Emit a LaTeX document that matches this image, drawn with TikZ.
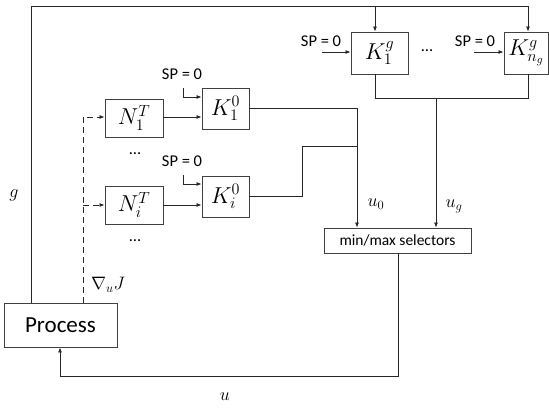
\RequirePackage{fix-cm}
\documentclass[tikz,border=0pt]{standalone}
\usepackage{fontspec}
\setmainfont{Carlito}
\usetikzlibrary{arrows.meta}
\begin{document}
\begin{tikzpicture}[x=1pt,y=-1pt,
  blk/.style={draw=black!75,line width=0.9pt,inner sep=0pt,minimum width=#1},
  ln/.style={draw=black!85,line width=0.8pt},
  arr/.style={ln,-{Latex[length=5pt,width=4pt]}},
  dsh/.style={arr,dash pattern=on 6pt off 4pt},
  sp/.style={font=\fontsize{16.5}{18}\selectfont},
  mathlbl/.style={inner sep=1pt,font=\fontsize{18}{20}\selectfont},
  blkm/.style={font=\fontsize{23}{25}\selectfont}]
\useasboundingbox (0,0) rectangle (549,408);
% blocks
\node[blk=113pt,minimum height=44pt,font=\fontsize{23}{26}\selectfont] (proc) at (60.5,325) {Process};
\node[blk=58pt,minimum height=38pt,blkm] (N1) at (134,118) {$N_1^T$};
\node[blk=58pt,minimum height=38pt,blkm] (Ni) at (134,205) {$N_i^T$};
\node[blk=47pt,minimum height=41pt,blkm] (K10) at (225.5,108.5) {$K_1^0$};
\node[blk=47pt,minimum height=41pt,blkm] (Ki0) at (225.5,196.5) {$K_i^0$};
\node[blk=57pt,minimum height=42pt,blkm] (K1g) at (379.5,53) {$K_1^g$};
\node[blk=44pt,minimum height=42pt,blkm] (Kng) at (526,53) {$K_{n_g}^g$};
\node[blk=147pt,minimum height=25pt,font=\fontsize{15.5}{18}\selectfont] (sel) at (397.5,240.5) {min/max selectors};
% labels
\node[sp,inner sep=1pt] (sp1) at (182,74) {SP = 0};
\node[sp,inner sep=1pt] (sp2) at (182,161) {SP = 0};
\node[sp,inner sep=1pt] (sp3) at (321,41) {SP = 0};
\node[sp,inner sep=1pt] (sp4) at (475,41) {SP = 0};
\node[sp] (d1) at (135,154) {\ldots};
\node[sp] (d2) at (135,241) {\ldots};
\node[sp] (d3) at (427,51) {\ldots};
\node[mathlbl] (lg) at (14,195) {$g$};
\node[mathlbl] (lgrad) at (108,285) {$\nabla_{u} J$};
\node[mathlbl] (lu) at (225,397) {$u$};
\node[mathlbl] (lu0) at (376,204) {$u_0$};
\node[mathlbl] (lug) at (454,206) {$u_g$};
% routing coordinates
\coordinate (gx) at (31,6);
\coordinate (topr) at (528,6);
\coordinate (topm) at (375,6);
\coordinate (dx) at (83,117);
\coordinate (gbot) at (375,98);
\coordinate (gbr) at (528,98);
\coordinate (gmid) at (436,98);
\coordinate (k0a) at (357,108);
\coordinate (k0b) at (302,146);
\coordinate (k0c) at (357,146);
\coordinate (ub) at (398,376);
\coordinate (ul) at (60,376);
% g feedback
\draw[ln] (proc.north -| gx) -- (gx) -- (topr);
\draw[arr] (topr) -- (Kng.north -| topr);
\draw[arr] (topm) -- (K1g.north -| topm);
% gradient dashed
\draw[dsh] (proc.north -| dx) -- (dx) -- (dx -| N1.west);
\draw[dsh] (Ni.west -| dx) -- (Ni.west);
% N to K
\draw[arr] (N1.east |- dx) -- (K10.west |- dx);
\draw[arr] (Ni.east) -- (Ki0.west |- Ni.east);
% SP arrows
\draw[arr] (183,88) -- (183,97) -- (K10.west |- 0,97);
\draw[arr] (183,175) -- (183,184) -- (Ki0.west |- 0,184);
\draw[arr] (322,52) -- (K1g.west |- 0,52);
\draw[arr] (474,52) -- (Kng.west |- 0,52);
% K0 outputs
\draw[ln] (K10.east |- k0a) -- (k0a);
\draw[arr] (k0a) -- (sel.north -| k0a);
\draw[ln] (Ki0.east |- 0,196) -- (k0b |- 0,196) -- (k0b) -- (k0c);
% Kg outputs
\draw[ln] (K1g.south -| gbot) -- (gbot) -- (gbr) -- (Kng.south -| gbr);
\draw[arr] (gmid) -- (sel.north -| gmid);
% u feedback
\draw[ln] (sel.south -| ub) -- (ub) -- (ul);
\draw[arr] (ul) -- (proc.south -| ul);
\end{tikzpicture}
\end{document}
